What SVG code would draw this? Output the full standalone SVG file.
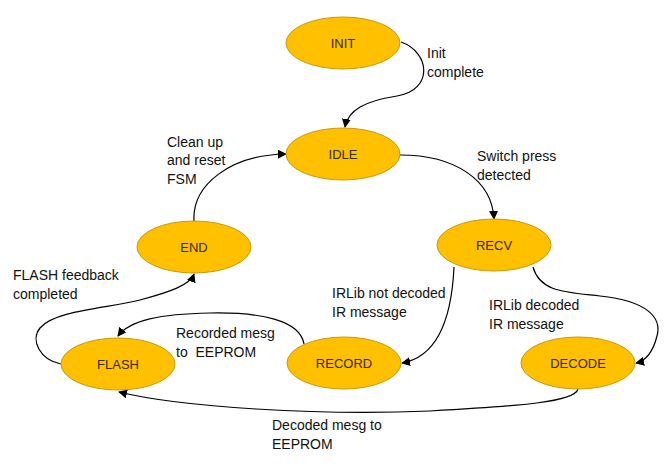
<svg xmlns="http://www.w3.org/2000/svg" width="670" height="464" viewBox="0 0 670 464">
<defs>
<marker id="arr" viewBox="0 0 10 10" refX="9" refY="5" markerWidth="9" markerHeight="9" markerUnits="userSpaceOnUse" orient="auto">
<path d="M0,0 L10,5 L0,10 z" fill="#000"/>
</marker>
</defs>
<style>
.node ellipse{fill:#FFC000;stroke:#C79A10;stroke-width:1}
.node text{font-family:"Liberation Sans",Arial,sans-serif;font-size:13px;fill:#3a2a00;text-anchor:middle}
.edge{fill:none;stroke:#000;stroke-width:1.2;marker-end:url(#arr)}
.lbl{font-family:"Liberation Sans",Arial,sans-serif;font-size:14px;fill:#111;white-space:pre}
</style>
<rect width="670" height="464" fill="#fff"/>
<g id="connectors">
<path class="edge" d="M401,42 C430,52 434,90 397,96 C365,101 348,110 345,127"/>
<path class="edge" d="M400,155 C455,155 492,180 494,219"/>
<path class="edge" d="M454,267 C452,310 442,356 402,363"/>
<path class="edge" d="M533,267 C540,292 565,292 600,296 C648,301 662,318 657,336 C653,352 645,361 636,363"/>
<path class="edge" d="M578,389 C575,402 520,406 430,411 C320,416 180,407 119,392"/>
<path class="edge" d="M304,344 C300,320 260,312 210,313 C160,314 130,320 118,336"/>
<path class="edge" d="M61,364 C40,360 30,340 40,328 C55,310 110,308 140,300 C170,292 190,285 194,274"/>
<path class="edge" d="M194,221 C192,185 230,155 286,154"/>
</g>
<g id="INIT" class="node"><ellipse cx="343" cy="43" rx="57" ry="26"/><text x="343" y="48">INIT</text></g>
<g id="IDLE" class="node"><ellipse cx="343" cy="154" rx="57" ry="26"/><text x="343" y="159">IDLE</text></g>
<g id="END" class="node"><ellipse cx="194" cy="247" rx="57" ry="26"/><text x="194" y="252">END</text></g>
<g id="RECV" class="node"><ellipse cx="494" cy="245" rx="57" ry="26"/><text x="494" y="250">RECV</text></g>
<g id="FLASH" class="node"><ellipse cx="118" cy="364" rx="57" ry="26"/><text x="118" y="369">FLASH</text></g>
<g id="RECORD" class="node"><ellipse cx="344" cy="363" rx="57" ry="26"/><text x="344" y="368">RECORD</text></g>
<g id="DECODE" class="node"><ellipse cx="578" cy="363" rx="57" ry="26"/><text x="578" y="368">DECODE</text></g>
<g id="labels">
<text class="lbl" x="427" y="58">Init</text>
<text class="lbl" x="427" y="77">complete</text>
<text class="lbl" x="477" y="161">Switch press</text>
<text class="lbl" x="477" y="180">detected</text>
<text class="lbl" x="167" y="147">Clean up</text>
<text class="lbl" x="167" y="165">and reset</text>
<text class="lbl" x="167" y="184">FSM</text>
<text class="lbl" x="13" y="280">FLASH feedback</text>
<text class="lbl" x="13" y="299">completed</text>
<text class="lbl" x="332" y="298">IRLib not decoded</text>
<text class="lbl" x="332" y="317">IR message</text>
<text class="lbl" x="489" y="310">IRLib decoded</text>
<text class="lbl" x="489" y="329">IR message</text>
<text class="lbl" x="176" y="338">Recorded mesg</text>
<text class="lbl" x="176" y="357">to  EEPROM</text>
<text class="lbl" x="272" y="430">Decoded mesg to</text>
<text class="lbl" x="272" y="449">EEPROM</text>
</g>
</svg>
